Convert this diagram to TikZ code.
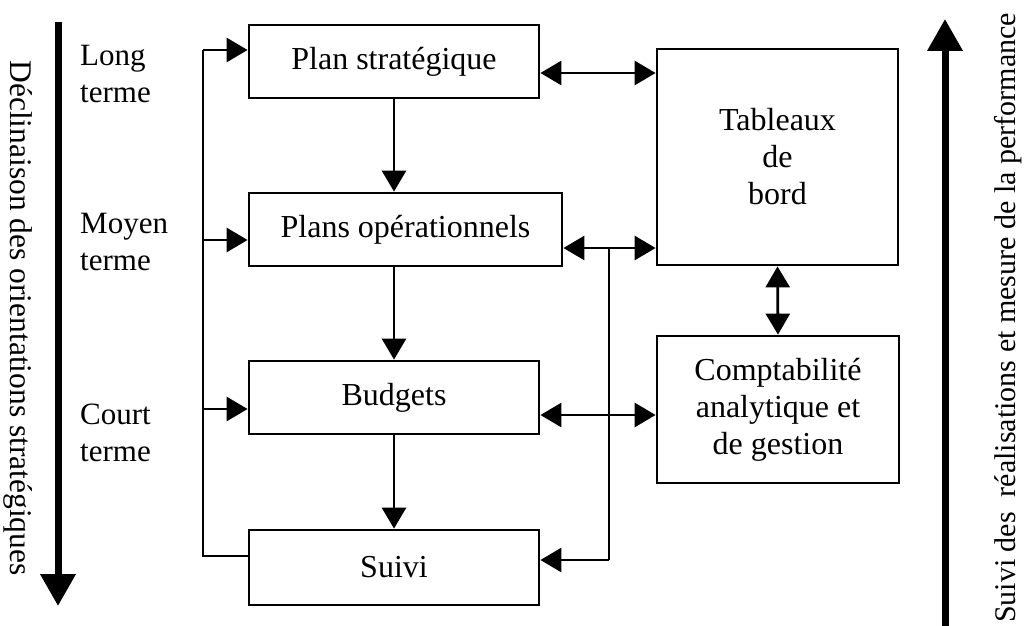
\documentclass[tikz,border=0pt]{standalone}
\usepackage{fontspec}
\setmainfont{Liberation Serif}
\usetikzlibrary{arrows.meta}
\begin{document}
\begin{tikzpicture}[x=1pt,y=-1pt,
  hd/.tip={Triangle[length=21pt,width=24pt]},
  box/.style={draw, line width=2.8pt, inner sep=0pt, align=center,
    font=\fontsize{32}{37}\selectfont},
  link/.style={line width=2.8pt},
  arr/.style={link,-hd},
  dbl/.style={link,hd-hd},
  bigarrow/.style={line width=7pt,-{Triangle[length=32pt,width=34pt]}},
  lbl/.style={font=\fontsize{31}{37}\selectfont, align=left, anchor=west, inner sep=0pt},
  side/.style={inner sep=0pt}]
\useasboundingbox (0,0) rectangle (1025,626);

% planning chain
\node[box, minimum width=290pt, minimum height=73pt] (ps) at (394,61.5) {Plan stratégique};
\node[box, minimum width=313pt, minimum height=73pt] (po) at (405.5,229.5) {Plans opérationnels};
\node[box, minimum width=290pt, minimum height=73pt] (bu) at (394,397.5) {Budgets};
\node[box, minimum width=290pt, minimum height=75pt] (su) at (394,567.5) {Suivi};

% control tools
\node[box, minimum width=241pt, minimum height=216pt] (tb) at (777.5,157) {Tableaux\\de\\bord};
\node[box, minimum width=242pt, minimum height=147pt] (ca) at (778,409.5) {Comptabilité\\analytique et\\de gestion};

% horizon labels
\node[lbl] (lt) at (80,74) {Long\\terme};
\node[lbl] (mt) at (80,242) {Moyen\\terme};
\node[lbl] (ct) at (80,433) {Court\\terme};

% side captions and their arrows
\node[side, rotate=-90, font=\fontsize{31.5}{36}\selectfont] (dec) at (18,318) {Déclinaison des orientations stratégiques};
\node[side, rotate=90, font=\fontsize{30}{36}\selectfont] (perf) at (1008,318) {Suivi des~~réalisations et mesure de la performance};
\coordinate (dA) at (58,22);
\coordinate (dB) at (58,606);
\draw[bigarrow] (dA) -- (dB);
\coordinate (uA) at (945,626);
\coordinate (uB) at (945,19);
\draw[bigarrow] (uA) -- (uB);

% vertical flow
\draw[arr] (ps.south) -- (ps.south |- po.north);
\draw[arr] (ps.south |- po.south) -- (bu.north);
\draw[arr] (bu.south) -- (su.north);

% feedback bus on the left
\coordinate (L1) at (203,50);
\coordinate (L2) at (203,240);
\coordinate (L3) at (203,409);
\coordinate (L4) at (203,556);
\draw[link] (su.west |- L4) -- (L4) -- (L1);
\draw[arr] (L1) -- (ps.west |- L1);
\draw[arr] (L2) -- (po.west |- L2);
\draw[arr] (L3) -- (bu.west |- L3);

% links to the control tools
\coordinate (T1) at (600,73);
\coordinate (R1) at (609,248);
\coordinate (C1) at (609,415);
\coordinate (R3) at (609,560);
\draw[dbl] (ps.east |- T1) -- (tb.west |- T1);
\draw[dbl] (po.east |- R1) -- (tb.west |- R1);
\draw[dbl] (bu.east |- C1) -- (ca.west |- C1);
\draw[link] (R1) -- (R3);
\draw[arr] (R3) -- (su.east |- R3);
\draw[dbl] (tb.south) -- (ca.north);
\end{tikzpicture}
\end{document}
